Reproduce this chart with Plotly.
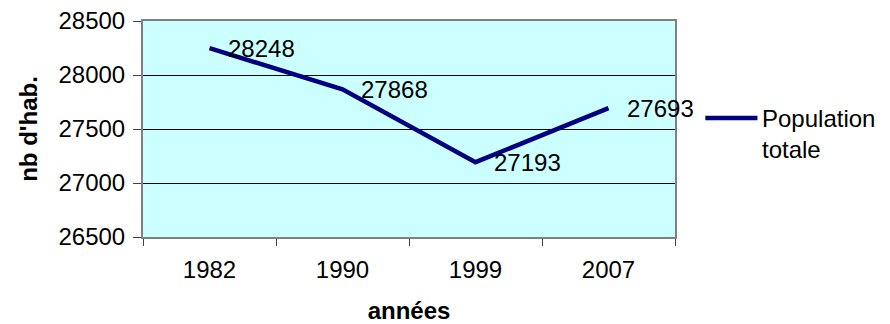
import plotly.graph_objects as go

# Population totale par recensement
annees = ["1982", "1990", "1999", "2007"]
population = [28248, 27868, 27193, 27693]
serie_nom = "Population totale"
y_ticks = [26500, 27000, 27500, 28000, 28500]

FONT = "Liberation Sans, Arial, sans-serif"
SIZE = 24
NAVY = "#000080"

fig = go.Figure()
fig.add_trace(go.Scatter(
    x=annees, y=population, mode="lines", name=serie_nom,
    line=dict(color=NAVY, width=4.5), showlegend=False, hoverinfo="skip",
))

# Étiquettes de valeurs à droite de chaque point (x = rang de la catégorie)
for i, v in enumerate(population):
    fig.add_annotation(x=i, y=v, text=str(v), showarrow=False,
                       xanchor="left", yanchor="middle", xshift=16,
                       font=dict(family=FONT, size=SIZE, color="black"))

# Légende dessinée à droite de la zone de tracé
fig.add_shape(type="line", xref="paper", yref="paper",
              x0=1.057, x1=1.155, y0=0.551, y1=0.551,
              line=dict(color=NAVY, width=4.5))
fig.add_annotation(xref="paper", yref="paper", x=1.16, y=0.62,
                   xanchor="left", yanchor="top", align="left",
                   text=serie_nom.replace(" ", "<br>"), showarrow=False,
                   font=dict(family=FONT, size=SIZE, color="black"))

fig.update_layout(
    width=890, height=324,
    margin=dict(l=143, r=215, t=21, b=87),
    paper_bgcolor="white", plot_bgcolor="#CCFFFF",
    font=dict(family=FONT, size=SIZE, color="black"),
    showlegend=False,
)
fig.update_xaxes(
    type="category", range=[-0.5, 3.5], tickson="boundaries", automargin=False,
    ticks="outside", ticklen=7, tickcolor="#404040", tickwidth=1,
    showgrid=False, showline=True, linecolor="#808080", linewidth=2, mirror=True,
    ticklabelstandoff=10,
    tickfont=dict(family=FONT, size=SIZE, color="black"),
    title=dict(text="<b>années</b>", standoff=25,
               font=dict(family=FONT, size=SIZE, color="black")),
)
fig.update_yaxes(
    range=[26500, 28500], tickvals=y_ticks, ticktext=[str(t) for t in y_ticks],
    automargin=False,
    ticks="outside", ticklen=8, tickcolor="#404040", tickwidth=1,
    showgrid=True, gridcolor="black", gridwidth=1, zeroline=False,
    showline=True, linecolor="#808080", linewidth=2, mirror=True,
    ticklabelstandoff=3,
    tickfont=dict(family=FONT, size=SIZE, color="black"),
    title=dict(text="<b>nb d'hab.</b>", standoff=14,
               font=dict(family=FONT, size=SIZE, color="black")),
)

fig.write_html("out.html")
